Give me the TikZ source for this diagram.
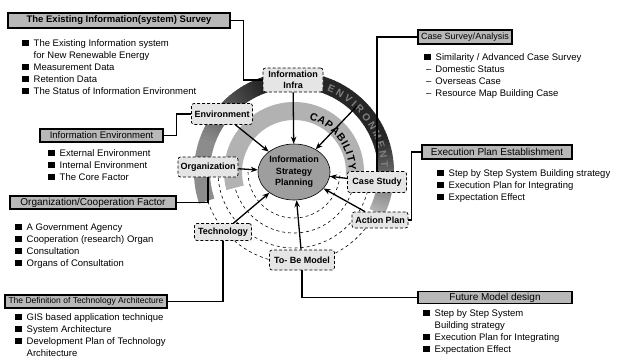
\documentclass[tikz,border=0pt]{standalone}
\usepackage{fontspec}
\setmainfont{Liberation Sans}
\usetikzlibrary{arrows.meta,decorations.text,shapes.geometric}

% bullet square and dash for the item lists
\newcommand\blt{\rule{6.5pt}{6.5pt}\hspace{5pt}}
\newcommand\dsh{\hspace*{2pt}--\hspace{4pt}}

\tikzset{
  hdr/.style={draw=black, line width=1.2pt, fill=black!28, inner sep=0pt},
  nd/.style={draw=black, densely dashed, line width=0.7pt, rounded corners=2.5pt,
    fill=black!10, font=\fontsize{9}{10.5}\selectfont\bfseries, inner sep=1pt, align=center},
  lst/.style={anchor=north west, align=left, inner sep=0pt, font=\fontsize{9.5}{12}\selectfont},
  link/.style={line width=1.1pt},
  feed/.style={line width=1.3pt, -{Stealth[length=7pt,width=5.5pt]}},
  orbit/.style={dashed, line width=0.6pt},
  isp/.style={ellipse, draw=black, line width=0.6pt, fill=black!38, minimum width=72pt,
    minimum height=56pt, inner sep=0pt, align=center, font=\fontsize{9}{11.5}\selectfont\bfseries},
}

\begin{document}
\begin{tikzpicture}[x=1pt,y=-1pt]
\useasboundingbox (0,0) rectangle (617,359);
\coordinate (c) at (294,172);

% dashed orbits in the lower half
\foreach \r in {46,61,76,91}
  \draw[orbit] ([shift={(180:\r pt)}]c) arc[start angle=180,end angle=360,radius=\r pt];

% outer ring, dark at the top right and lighter towards its ends
\foreach \a in {-26,-24,...,196}{
  \pgfmathsetmacro\k{\a < -5 ? 30+25*(\a+26)/21 : (\a < 20 ? 55+30*(\a+5)/25 : (\a < 110 ? 85 : (\a < 160 ? 85-40*(\a-110)/50 : 45)))}
  \fill[black!\k] ([shift={(\a:100pt)}]c) arc[start angle=\a, end angle=\a+2.4, radius=100pt]
    -- ([shift={(\a+2.4:84pt)}]c) arc[start angle=\a+2.4, end angle=\a, radius=84pt] -- cycle;
}
% inner capability ring
\fill[black!30] ([shift={(-4:70pt)}]c) arc[start angle=-4, end angle=195, radius=70pt]
  -- ([shift={(195:52pt)}]c) arc[start angle=195, end angle=-4, radius=52pt] -- cycle;

% ring lettering
\path[decorate, decoration={text along path, text align={fit to path},
  text={|\fontsize{10.5}{12}\selectfont\bfseries|CAPABILITY}}]
  ([shift={(74:55pt)}]c) arc[start angle=74, end angle=2, radius=55pt];
\path[decorate, decoration={text along path, text align={fit to path}, text color=black!50,
  text={|\fontsize{10}{11}\selectfont\bfseries|ENVIRONMENT}}]
  ([shift={(68:87.5pt)}]c) arc[start angle=68, end angle=3, radius=87.5pt];

% centre
\node[isp] (isp) at (c) {Information\\Strategy\\Planning};

% nodes around the centre
\node[nd, minimum width=60pt, minimum height=24pt] (infra) at (293,80) {Information\\Infra};
\node[nd, minimum width=61pt, minimum height=21pt] (env) at (222,114) {Environment};
\node[nd, minimum width=60pt, minimum height=20pt] (org) at (208,167) {Organization};
\node[nd, minimum width=57pt, minimum height=17pt] (tech) at (223,232) {Technology};
\node[nd, minimum width=65pt, minimum height=20pt] (tobe) at (302,260) {To- Be Model};
\node[nd, minimum width=56pt, minimum height=16pt] (action) at (380,220) {Action Plan};
\node[nd, minimum width=59pt, minimum height=21pt] (case) at (377,182) {Case Study};
\coordinate (capin) at (357,106);

% flows into the centre
\foreach \n in {infra,env,org,tech,tobe,action,case,capin}
  \draw[feed] (\n) -- (isp);

% section headers
\node[hdr, minimum width=222pt, minimum height=15pt, font=\fontsize{9.5}{10}\selectfont\bfseries]
  (h1) at (119,20.5) {The Existing Information(system) Survey};
\node[hdr, minimum width=94pt, minimum height=14pt, font=\fontsize{9}{10}\selectfont]
  (h2) at (465,37) {Case Survey/Analysis};
\node[hdr, minimum width=123pt, minimum height=13pt, font=\fontsize{9.5}{10}\selectfont]
  (h3) at (101.5,135.5) {Information Environment};
\node[hdr, minimum width=166pt, minimum height=13pt, font=\fontsize{10}{10}\selectfont]
  (h4) at (93,202.5) {Organization/Cooperation Factor};
\node[hdr, minimum width=162pt, minimum height=13pt, font=\fontsize{8.5}{10}\selectfont]
  (h5) at (86,301.5) {The Definition of Technology Architecture};
\node[hdr, minimum width=150pt, minimum height=14pt, font=\fontsize{10}{10}\selectfont]
  (h6) at (497,152) {Execution Plan Establishment};
\node[hdr, minimum width=154pt, minimum height=12pt, font=\fontsize{10}{10}\selectfont]
  (h7) at (495,297.5) {Future Model design};

% header connectors
\draw[link] (h1.east) -- ++(13,0) |- (infra.west);
\draw[link] (h2.west) -| (case.north);
\draw[link] (h3.east) -- ++(13,0) |- (env.west);
\draw[link] (h4.east) -| (org.south);
\draw[link] (h5.east) -| (tech.south);
\draw[link] (h6.west) -- ++(-10,0) |- (action.east);
\draw[link] (h7.west) -| (tobe.south);

% item lists
\node[lst] (la) at (22,39.4) {\blt The Existing Information system\\
  \hspace*{11.5pt}for New Renewable Energy\\ \blt Measurement Data\\ \blt Retention Data\\
  \blt The Status of Information Environment};
\node[lst] (lb) at (48,149.4) {\blt External Environment\\ \blt Internal Environment\\ \blt The Core Factor};
\node[lst] (lc) at (15,223.4) {\blt A Government Agency\\ \blt Cooperation (research) Organ\\
  \blt Consultation\\ \blt Organs of Consultation};
\node[lst] (ld) at (15,313.4) {\blt GIS based application technique\\ \blt System Architecture\\
  \blt Development Plan of Technology\\ \hspace*{11.5pt}Architecture};
\node[lst] (le) at (424,53.4) {\blt Similarity / Advanced Case Survey\\ \dsh Domestic Status\\
  \dsh Overseas Case\\ \dsh Resource Map Building Case};
\node[lst] (lf) at (437,169.4) {\blt Step by Step System Building strategy\\
  \blt Execution Plan for Integrating\\ \blt Expectation Effect};
\node[lst] (lg) at (423,309.4) {\blt Step by Step System\\ \hspace*{11.5pt}Building strategy\\
  \blt Execution Plan for Integrating\\ \blt Expectation Effect};
\end{tikzpicture}
\end{document}
